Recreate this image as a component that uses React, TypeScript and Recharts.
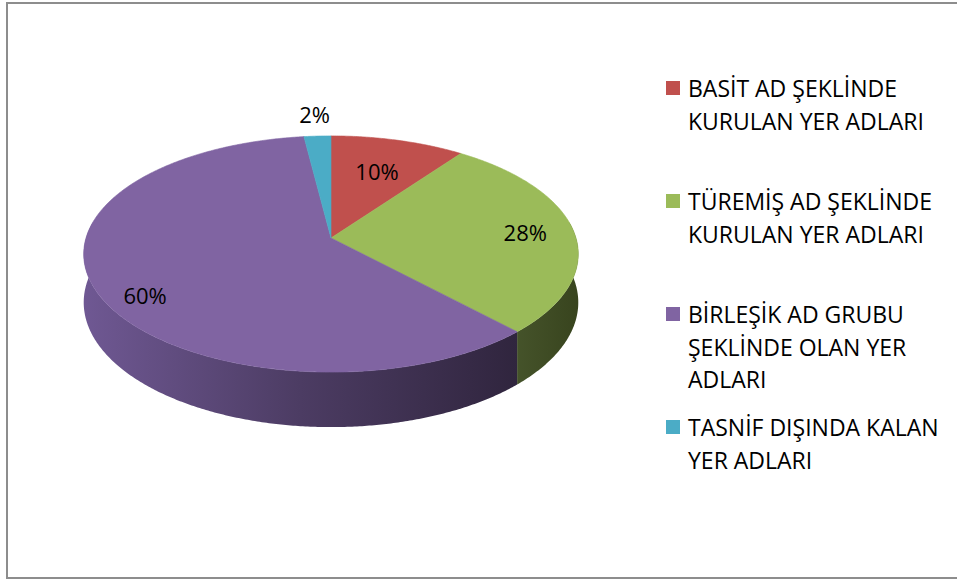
import React from 'react';
import { PieChart, Pie, Legend } from 'recharts';

// ---------- data ----------
const categories = [
  'BASİT AD ŞEKLİNDE KURULAN YER ADLARI',
  'TÜREMİŞ AD ŞEKLİNDE KURULAN YER ADLARI',
  'BİRLEŞİK AD GRUBU ŞEKLİNDE OLAN YER ADLARI',
  'TASNİF DIŞINDA KALAN YER ADLARI',
];
const legendLines = [
  ['BASİT AD ŞEKLİNDE', 'KURULAN YER ADLARI'],
  ['TÜREMİŞ AD ŞEKLİNDE', 'KURULAN YER ADLARI'],
  ['BİRLEŞİK AD GRUBU', 'ŞEKLİNDE OLAN YER', 'ADLARI'],
  ['TASNİF DIŞINDA KALAN', 'YER ADLARI'],
];
const values = [10, 28, 60, 2];
const colors = ['#c0504d', '#9bbb59', '#8064a2', '#4bacc6'];
const sideStops = [
  ['#8a3a38', '#6e2c2a'],
  ['#45532a', '#38441e'],
  ['#6f5893', '#4c3c63', '#30253e'],
  ['#357d90', '#2a6676'],
];

const data = categories.map((name, i) => ({ name, value: values[i], color: colors[i] }));

// ---------- 3D projection settings ----------
const TILT = 0.4732;
const PERSP = 0.1356;
const DEPTH_RATIO = 0.194;
const FONT = '"Open Sans", "Noto Sans", sans-serif';
const RAD = Math.PI / 180;

function proj(cx: number, cy: number, R: number, deg: number, r: number, drop: number): [number, number] {
  const c = Math.cos(deg * RAD);
  const s = Math.sin(deg * RAD);
  const k = 1 + PERSP * r * s;
  return [cx + (R * r * c) / k, cy - (R * TILT * r * s) / k + drop / k];
}

function arc(cx: number, cy: number, R: number, from: number, to: number, drop: number) {
  const n = Math.max(2, Math.ceil(Math.abs(to - from) / 0.5) + 1);
  const pts: [number, number][] = [];
  for (let i = 0; i < n; i++) {
    const a = from + ((to - from) * i) / (n - 1);
    pts.push(proj(cx, cy, R, a, 1, drop));
  }
  return pts;
}

const toPath = (pts: [number, number][]) =>
  'M' + pts.map((p) => `${p[0].toFixed(2)},${p[1].toFixed(2)}`).join('L') + 'Z';

const renderSlice = (p: any) => {
  const { cx, cy, outerRadius: R, startAngle, endAngle, index } = p;
  const lo = Math.min(startAngle, endAngle);
  const hi = Math.max(startAngle, endAngle);
  const color = colors[index];
  const drop = R * DEPTH_RATIO;
  const parts: [number, number][] = [];
  for (let k = -2; k <= 1; k++) {
    const a = Math.max(lo, -188 + 360 * k);
    const b = Math.min(hi, 8 + 360 * k);
    if (b > a) parts.push([a, b]);
  }
  const gid = `side-grad-${index}`;
  const stops = sideStops[index];
  const topPts: [number, number][] = [[cx, cy], ...arc(cx, cy, R, hi, lo, 0)];
  return (
    <g key={`slice-${index}`}>
      <defs>
        <linearGradient id={gid} x1="0" y1="0" x2="1" y2="0">
          {stops.map((c, j) => (
            <stop key={j} offset={stops.length === 1 ? 0 : j / (stops.length - 1)} stopColor={c} />
          ))}
        </linearGradient>
      </defs>
      {parts.map(([a, b], j) => (
        <path
          key={j}
          d={toPath([...arc(cx, cy, R, a, b, 0), ...arc(cx, cy, R, b, a, drop)])}
          fill={`url(#${gid})`}
          stroke="none"
        />
      ))}
      <path d={toPath(topPts)} fill={color} stroke={color} strokeWidth={0.6} />
    </g>
  );
};

const renderText = (p: any) => {
  const { cx, cy, outerRadius: R, midAngle, percent, index } = p;
  const r = percent < 0.05 ? 1.25 : percent < 0.15 ? 0.66 : 0.8;
  const [x, y] = proj(cx, cy, R, midAngle, r, percent > 0.5 ? R * 0.06 : 0);
  return (
    <text
      key={`txt-${index}`}
      x={x}
      y={y}
      textAnchor="middle"
      dominantBaseline="central"
      fontFamily={FONT}
      fontSize={22}
      fill="#000"
    >
      {`${Math.round(percent * 100)}%`}
    </text>
  );
};

const renderLegend = () => (
  <div style={{ fontFamily: FONT, fontSize: 23, color: '#000' }}>
    {legendLines.map((lines, i) => (
      <div key={i} style={{ display: 'flex', alignItems: 'flex-start', height: 113 }}>
        <div
          style={{ width: 14, height: 14, background: colors[i], marginTop: 9, marginLeft: 6, flex: 'none' }}
        />
        <div style={{ marginLeft: 8, lineHeight: '32.5px' }}>
          {lines.map((l, j) => (
            <div key={j} style={{ whiteSpace: 'nowrap' }}>
              {l}
            </div>
          ))}
        </div>
      </div>
    ))}
  </div>
);

export default function App() {
  return (
    <div
      style={{
        position: 'fixed',
        left: 0,
        top: 0,
        width: 957,
        height: 581,
        background: '#fff',
        overflow: 'hidden',
      }}
    >
      <div
        style={{
          position: 'absolute',
          left: 6,
          top: 2,
          width: 1000,
          height: 577,
          border: '2px solid #8d8d8d',
          boxSizing: 'border-box',
        }}
      />
      <div style={{ position: 'absolute', left: 0, top: 0 }}>
        <PieChart width={957} height={581} margin={{ top: 0, right: 0, bottom: 0, left: 0 }}>
          <Pie
            data={data}
            dataKey="value"
            nameKey="name"
            cx={331}
            cy={238}
            outerRadius={245}
            startAngle={90}
            endAngle={-270}
            fill="none"
            stroke="none"
            label={renderSlice}
            labelLine={false}
            isAnimationActive={false}
          />
          <Pie
            data={data}
            dataKey="value"
            nameKey="name"
            cx={331}
            cy={238}
            outerRadius={245}
            startAngle={90}
            endAngle={-270}
            fill="none"
            stroke="none"
            label={renderText}
            labelLine={false}
            isAnimationActive={false}
          />
          <Legend
            content={renderLegend}
            layout="vertical"
            align="right"
            verticalAlign="top"
            wrapperStyle={{ left: 660, top: 72, width: 297, right: 'auto', bottom: 'auto' }}
          />
        </PieChart>
      </div>
    </div>
  );
}
